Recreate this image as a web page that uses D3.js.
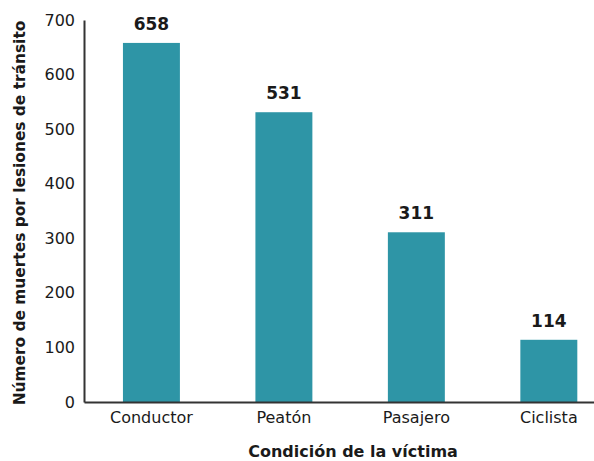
<!DOCTYPE html>
<html>
<head>
<meta charset="utf-8">
<script src="https://cdn.jsdelivr.net/npm/d3@7"></script>
<style>
  body { margin: 0; background: #fff; }
  text { font-family: "DejaVu Sans", Verdana, sans-serif; fill: #1a1a1a; }
</style>
</head>
<body>
<div id="chart"></div>
<script>
(function() {
    var width = 594,
        height = 461;

    // data
    var categories = ["Conductor", "Peatón", "Pasajero", "Ciclista"];
    var deaths = [658, 531, 311, 114];
    var yTicks = [0, 100, 200, 300, 400, 500, 600, 700];

    var svg = d3.select("#chart").append("svg")
        .attr("width", width)
        .attr("height", height);

    var yScale = d3.scaleLinear()
        .domain([0, 700])
        .range([402, 20]);

    var xScale = d3.scaleBand()
        .domain(categories)
        .range([84, 594])
        .paddingInner(0.57)
        .paddingOuter(0.21)
        .align(0.7);

    // bars
    svg.selectAll("rect.bar")
        .data(categories)
        .enter()
        .append("rect")
        .attr("class", "bar")
        .attr("x", function(d) { return xScale(d); })
        .attr("y", function(d, i) { return yScale(deaths[i]); })
        .attr("width", xScale.bandwidth())
        .attr("height", function(d, i) { return yScale(0) - yScale(deaths[i]); })
        .attr("fill", "#2e95a6");

    // value labels
    svg.selectAll("text.value")
        .data(categories)
        .enter()
        .append("text")
        .attr("class", "value")
        .attr("x", function(d) { return xScale(d) + xScale.bandwidth() / 2; })
        .attr("y", function(d, i) { return yScale(deaths[i]) - 13; })
        .attr("text-anchor", "middle")
        .style("font-size", "17px")
        .style("font-weight", "bold")
        .text(function(d, i) { return deaths[i]; });

    // y axis
    var yAxis = d3.axisLeft(yScale)
        .tickValues(yTicks)
        .tickSize(0)
        .tickPadding(9);

    var gy = svg.append("g")
        .attr("transform", "translate(84,0)")
        .call(yAxis);
    gy.select(".domain").attr("stroke", "#333").attr("stroke-width", 2);
    gy.selectAll("text")
        .style("font-size", "16px")
        .style("font-family", "'DejaVu Sans', Verdana, sans-serif")
        .attr("fill", "#1a1a1a");

    // x axis
    var xAxis = d3.axisBottom(xScale)
        .tickSize(0)
        .tickPadding(10);

    var gx = svg.append("g")
        .attr("transform", "translate(0,402)")
        .call(xAxis);
    gx.select(".domain").attr("stroke", "#333").attr("stroke-width", 2);
    gx.selectAll("text")
        .style("font-size", "16px")
        .style("font-family", "'DejaVu Sans', Verdana, sans-serif")
        .attr("fill", "#1a1a1a");

    // axis titles
    svg.append("text")
        .attr("transform", "translate(25,213) rotate(-90)")
        .attr("text-anchor", "middle")
        .style("font-size", "15.4px")
        .style("font-weight", "bold")
        .text("Número de muertes por lesiones de tránsito");

    svg.append("text")
        .attr("x", 353)
        .attr("y", 457)
        .attr("text-anchor", "middle")
        .style("font-size", "16px")
        .style("font-weight", "bold")
        .text("Condición de la víctima");
})();
</script>
</body>
</html>
